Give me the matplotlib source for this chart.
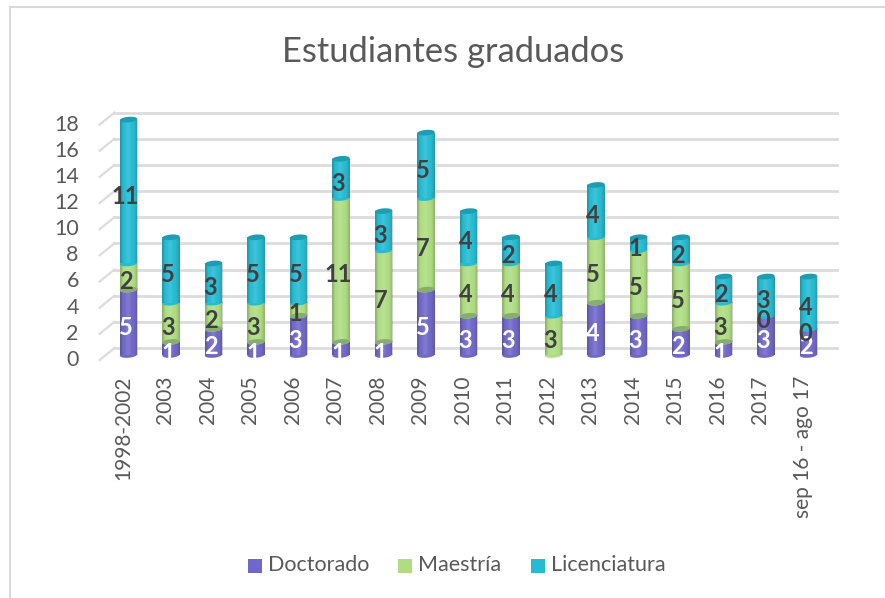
import numpy as np
import matplotlib
matplotlib.use("Agg")
import matplotlib.pyplot as plt
from matplotlib.patches import Ellipse, Rectangle
from matplotlib.transforms import Affine2D

categories = ["1998-2002", "2003", "2004", "2005", "2006", "2007", "2008", "2009", "2010",
              "2011", "2012", "2013", "2014", "2015", "2016", "2017", "sep 16 - ago 17"]
doctorado = [5, 1, 2, 1, 3, 1, 1, 5, 3, 3, 0, 4, 3, 2, 1, 3, 2]
maestria = [2, 3, 2, 3, 1, 11, 7, 7, 4, 4, 3, 5, 5, 5, 3, 0, 0]
licenciatura = [11, 5, 3, 5, 5, 3, 3, 5, 4, 2, 4, 4, 1, 2, 2, 3, 4]
series = [("Doctorado", doctorado, "#7068C8", "white"),
          ("Maestría", maestria, "#AEDD82", "#404040"),
          ("Licenciatura", licenciatura, "#25BBD2", "#404040")]
yticks = list(range(0, 20, 2))

W, H = 885, 598
plt.rcParams["font.family"] = ["Lato", "DejaVu Sans"]
fig = plt.figure(figsize=(W / 100, H / 100), dpi=100)
fig.patch.set_facecolor("white")

# chart frame (left and top edges are visible)
fig.add_artist(plt.Line2D([9.5 / W, 9.5 / W], [0, 1 - 7 / H], color="#D9D9D9", lw=1.5))
fig.add_artist(plt.Line2D([9.5 / W, 1], [1 - 7 / H, 1 - 7 / H], color="#D9D9D9", lw=1.5))

left, right = 85.0, 860.0
top, bottom = 100.0, 355.0
ax = fig.add_axes([left / W, 1 - bottom / H, (right - left) / W, (bottom - top) / H])
xlim = ((left - 128.5) / 42.5, (right - 128.5) / 42.5)
ylim = (0, (bottom - top) / 13.08)
ax.set_xlim(xlim)
ax.set_ylim(ylim)
ax.axis("off")

back = ax.transData + Affine2D().translate(0, 7.0)
for v in yticks:
    ax.plot([-0.33, 16.68], [v, v], color="#DCDCDC", lw=2.0, transform=back, zorder=1, clip_on=False)
    ax.plot([-0.33, -0.68], [v, v - 0.92], color="#DCDCDC", lw=1.6, transform=back, zorder=1, clip_on=False)
    ax.text(-1.17, v - 0.38, str(v), ha="right", va="center", fontsize=15.5, color="#595959", clip_on=False)

bw = 0.41
ew_px, eh_px = 17.4, 5.5
grad = np.array([0.24, 0.10, 0.0, -0.05, -0.12, -0.12, -0.05, 0.0, 0.02, 0.08, 0.22])
shade = np.zeros((1, grad.size, 4))
shade[..., 3] = np.abs(grad)
shade[..., :3] = np.where(grad[None, :, None] > 0, 0.15, 1.0)


def cap(i, y, color, z):
    # small tilted ellipse, located from the data position
    cx, cy = ax.transData.transform((i, y))
    e = Ellipse((cx, cy), ew_px, eh_px, angle=5, facecolor=color, lw=0, zorder=z,
                transform=Affine2D())
    ax.add_patch(e)
    e.set_clip_on(False)


base = np.zeros(len(categories))
z = 3
for name, vals, col, lc in series:
    vals = np.array(vals, float)
    for i, v in enumerate(vals):
        if v == 0:
            continue
        b = base[i]
        ax.bar(i, v, bottom=b, width=bw, color=col, lw=0, zorder=z)
        cap(i, b, col, z)
        ax.imshow(shade, extent=(i - bw / 2, i + bw / 2, b, b + v), aspect="auto",
                  interpolation="bicubic", zorder=z + 0.1)
        if name == "Doctorado" and maestria[i] > 0:
            cap(i, b + v, "#88AD70", 8)
        if name == "Licenciatura":
            cap(i, b + v, "#1C9DB2", 8)
    z += 1
    base += vals
ax.set_xlim(xlim)
ax.set_ylim(ylim)

# data labels sit slightly left of and below the segment centres
base = np.zeros(len(categories))
for name, vals, col, lc in series:
    for i, v in enumerate(vals):
        if name == "Doctorado" and v == 0:
            continue
        ax.text(i - 0.07, base[i] + v / 2 - 0.36, str(v), ha="center", va="center", fontsize=17,
                fontweight="bold", color=lc, zorder=20, clip_on=False)
    base += np.array(vals, float)

for i, c in enumerate(categories):
    ax.text(i - 0.13, -1.55, c, rotation=90, ha="center", va="top", fontsize=15,
            color="#595959", clip_on=False)

fig.text(453 / W, 1 - 52 / H, "Estudiantes graduados", ha="center", va="center",
         fontsize=24.8, color="#595959")

leg_x = [248, 398, 531]
for (name, vals, col, lc), x in zip(series, leg_x):
    fig.add_artist(Rectangle((x / W, 1 - 573 / H), 14 / W, 14 / H, transform=fig.transFigure,
                             facecolor=col, lw=0))
    fig.text((x + 20) / W, 1 - 565 / H, name, ha="left", va="center", fontsize=15.5, color="#595959")

fig.savefig("out.png", dpi=100)
